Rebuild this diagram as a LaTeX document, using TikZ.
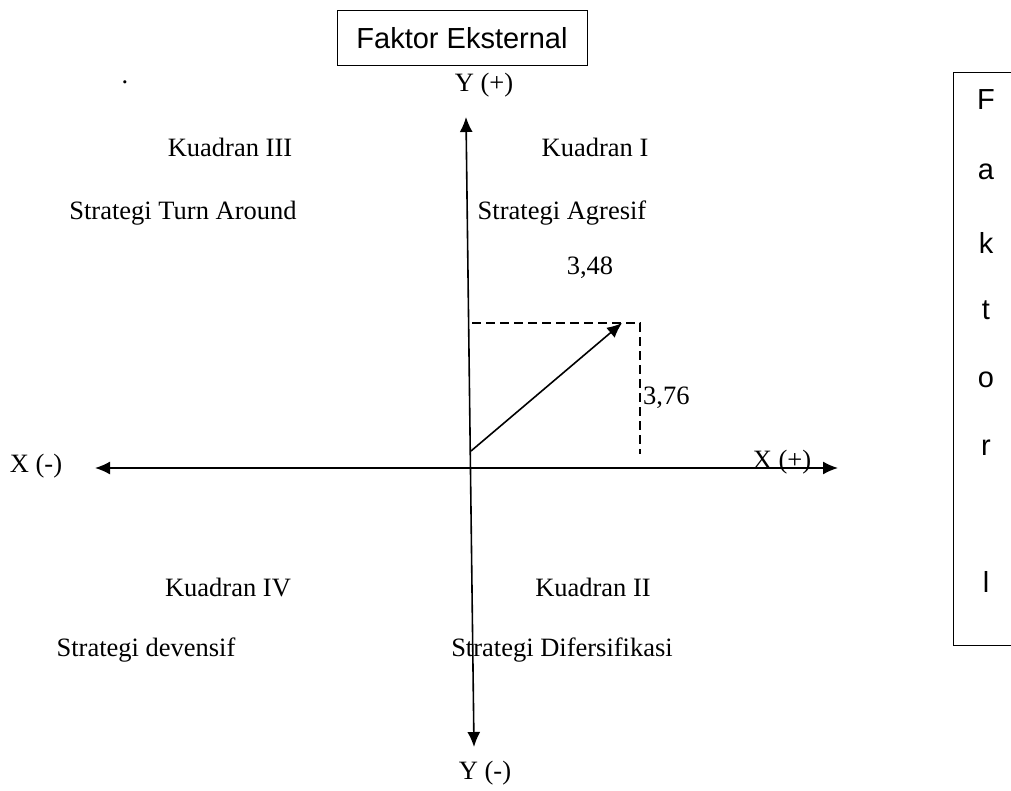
\documentclass[tikz,border=0pt]{standalone}
\usepackage{fontspec}
\setmainfont{Liberation Serif}
\setsansfont{Liberation Sans}
\usetikzlibrary{arrows.meta}
\tikzset{>={Latex[length=15pt,width=13pt]}}
\tikzset{
	label/.style={font=\fontsize{26.5}{30}\selectfont, inner sep=0pt},
	sflabel/.style={font=\sffamily\fontsize{29}{33}\selectfont, inner sep=0pt}
}

\begin{document}
\begin{tikzpicture}[x=1pt,y=-1pt]
		\useasboundingbox (0,0) rectangle (1011,790);

		% axes
		\coordinate (ytop) at (466,117);
		\coordinate (ybot) at (474,747);
		\coordinate (xleft) at (95,468);
		\coordinate (xright) at (838,468);
		\draw[line width=1.6pt,<->] (ytop) -- (ybot);
		\draw[line width=1.6pt,<->] (xleft) -- (xright);

		\node[label] (yplus) at (484,85) {Y (+)};
		\node[label] (yminus) at (485,773) {Y (-)};
		\node[label] (xminus) at (36,466) {X (-)};
		\node[label, anchor=base] (xplus) at (782,468) {X (+)};
		\node[label] (dot) at (125,82) {.};

		% box atas
		\node[sflabel, draw, line width=1pt, minimum width=250pt, minimum height=55pt] (eksternal) at (462,38) {Faktor Eksternal};

		% kuadran
		\node[label] (k3) at (230,147) {Kuadran III};
		\node[label] (s3) at (183,213) {Strategi Turn Around};
		\node[label] (k1) at (595,147) {Kuadran I};
		\node[label] (s1) at (562,213) {Strategi Agresif};
		\node[label] (k4) at (228,587) {Kuadran IV};
		\node[label] (s4) at (146,650) {Strategi devensif};
		\node[label] (k2) at (593,587) {Kuadran II};
		\node[label] (s2) at (562,650) {Strategi Difersifikasi};

		% titik posisi
		\coordinate (o) at (471,451);
		\coordinate (p) at (622,323);
		\coordinate (dl) at (472,323);
		\coordinate (dc) at (640,323);
		\coordinate (db) at (640,454);
		\draw[line width=1.2pt, dash pattern=on 9pt off 5pt] (dl) -- (dc) -- (db);
		\draw[line width=1.6pt,->] (o) -- (p);
		\node[label] (vx) at (590,268) {3,48};
		\node[label, anchor=west] (vy) at (643,398) {3,76};

		% box kanan
		\draw[line width=1pt] (1011,72) -- (953,72) -- (953,645) -- (1011,645);
		\foreach \ch/\y in {F/100,a/172,k/243,t/310,o/380,r/448,l/582}
		\node[sflabel] at (986,\y) {\ch};

	\end{tikzpicture}
\end{document}
